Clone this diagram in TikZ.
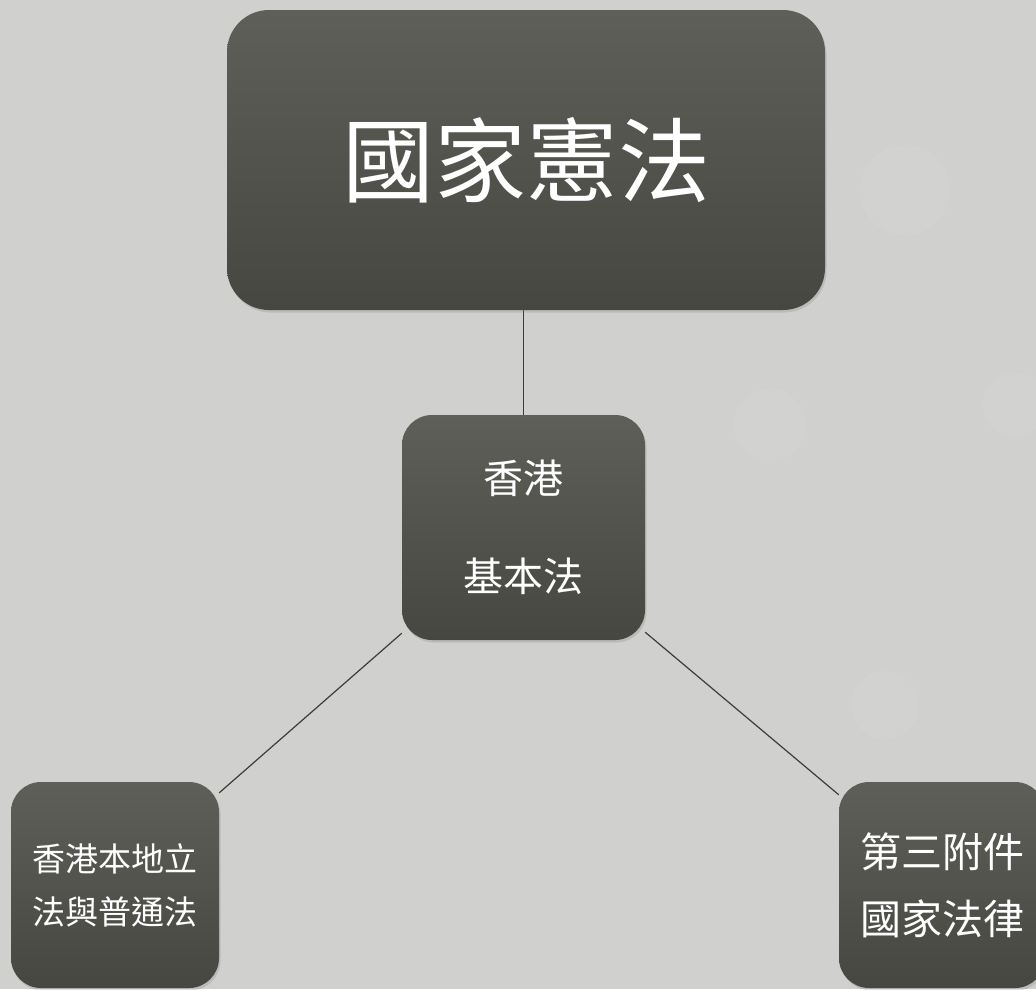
\documentclass[tikz,border=0pt]{standalone}
\usepackage{fontspec}
\newfontfamily\cjk{Noto Sans CJK TC}
\usetikzlibrary{shadows,backgrounds}
\definecolor{bg}{HTML}{D0D0CE}
\definecolor{boxtop}{HTML}{5F5F5A}
\definecolor{boxbot}{HTML}{474742}
\definecolor{linec}{HTML}{3C3C3A}
\tikzset{
  box/.style={draw=none, top color=boxtop, bottom color=boxbot, text=white,
    align=center, inner sep=0pt,
    drop shadow={opacity=0.25, shadow xshift=1.5pt, shadow yshift=-2.5pt}},
  link/.style={draw=linec, line width=1.2pt}
}
\begin{document}
\begin{tikzpicture}[x=1pt,y=-1pt]
\useasboundingbox (0,0) rectangle (1036,989);
\clip (0,0) rectangle (1036,989);
\node[box, rounded corners=42pt, minimum width=598pt, minimum height=300pt,
  font=\cjk\fontsize{92}{92}\selectfont]
  (top) at (526,160) {\raisebox{2pt}{國家憲法}};
\node[box, rounded corners=30pt, minimum width=243pt, minimum height=225pt,
  font=\cjk\fontsize{40}{98}\selectfont]
  (mid) at (523.5,527.5) {香港\\基本法};
\node[box, rounded corners=30pt, minimum width=208pt, minimum height=206pt,
  font=\cjk\fontsize{33}{53}\selectfont]
  (left) at (115,885) {香港本地立\\法與普通法};
\node[box, rounded corners=30pt, minimum width=206pt, minimum height=206pt,
  font=\cjk\fontsize{41}{67}\selectfont]
  (right) at (942,885) {第三附件\\國家法律};
\begin{scope}[on background layer]
\fill[bg] (0,0) rectangle (1036,989);
\begin{scope}[white, opacity=0.06]
\fill (905,190) circle (45);
\fill (770,425) circle (36);
\fill (1015,405) circle (32);
\fill (885,705) circle (34);
\end{scope}
\draw[link] (top.south -| mid.north) -- (mid.north);
\draw[link] ([yshift=7pt]mid.south west) -- ([yshift=-11pt]left.north east);
\draw[link] ([yshift=8pt]mid.south east) -- ([yshift=-13pt]right.north west);
\end{scope}
\end{tikzpicture}
\end{document}
